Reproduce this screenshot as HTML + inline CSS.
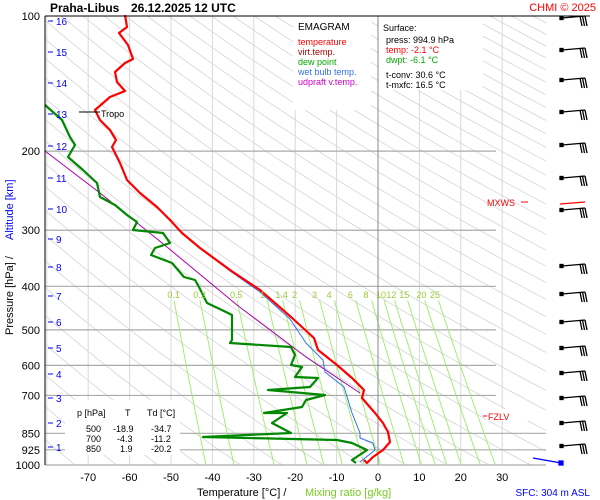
<!DOCTYPE html>
<html><head><meta charset="utf-8"><style>
html,body{margin:0;padding:0;background:#fff;}
svg{display:block;font-family:"Liberation Sans",sans-serif;}
</style></head><body>
<svg id="s" width="600" height="500" viewBox="0 0 600 500" xmlns="http://www.w3.org/2000/svg">
<rect width="600" height="500" fill="#fff"/>
<defs><clipPath id="c"><rect x="45" y="16" width="501" height="449"/></clipPath>
<clipPath id="c2"><rect x="45" y="16" width="460" height="449"/></clipPath></defs>
<g id="bg" clip-path="url(#c)"></g>
<g id="grid"></g>
<g id="mix" clip-path="url(#c2)"></g>
<!-- boxes -->
<rect x="293" y="16" width="78" height="94" fill="#fff"/>
<rect x="379" y="16" width="104" height="74" fill="#fff"/>
<rect x="65" y="400" width="115" height="55" fill="#fff"/>
<line x1="378" y1="16" x2="378" y2="465" stroke="#888" stroke-width="1"/>
<g id="data" fill="none" stroke-linejoin="round"></g>
<g id="bar" stroke="#000" stroke-width="1.3" fill="none"></g>
<!-- frame -->
<line x1="45" y1="16" x2="590" y2="16" stroke="#000"/>
<line x1="45" y1="16" x2="45" y2="465" stroke="#000"/>
<!-- title -->
<text x="50" y="12" font-size="12" font-weight="bold">Praha-Libus</text>
<text x="131" y="12" font-size="12" font-weight="bold">26.12.2025 12 UTC</text>
<text x="596" y="11" font-size="11" fill="#f00" text-anchor="end">CHMI © 2025</text>
<!-- legend -->
<text x="298" y="30" font-size="10">EMAGRAM</text>
<text x="298" y="45" font-size="9" fill="#f00">temperature</text>
<text x="298" y="55" font-size="9" fill="#a00">virt.temp.</text>
<text x="298" y="65" font-size="9" fill="#0a0">dew point</text>
<text x="298" y="75" font-size="9" fill="#3370f0">wet bulb temp.</text>
<text x="298" y="85" font-size="9" fill="#c0c">udpraft v.temp.</text>
<text x="383" y="31" font-size="9">Surface:</text>
<text x="386" y="43" font-size="9">press: 994.9 hPa</text>
<text x="386" y="53" font-size="9" fill="#f00">temp: -2.1 °C</text>
<text x="386" y="63" font-size="9" fill="#0a0">dwpt: -6.1 °C</text>
<text x="386" y="78" font-size="9">t-conv: 30.6 °C</text>
<text x="386" y="88" font-size="9">t-mxfc: 16.5 °C</text>
<!-- table -->
<g font-size="9">
<text x="77" y="416">p [hPa]</text><text x="125" y="416">T</text><text x="147" y="416">Td [°C]</text>
<text x="86" y="432">500</text><text x="113" y="432">-18.9</text><text x="151" y="432">-34.7</text>
<text x="86" y="442">700</text><text x="117" y="442">-4.3</text><text x="151" y="442">-11.2</text>
<text x="86" y="452">850</text><text x="120" y="452">1.9</text><text x="151" y="452">-20.2</text>
</g>
<!-- markers -->
<line x1="79" y1="112" x2="100" y2="112" stroke="#000"/>
<text x="101" y="117" font-size="9">Tropo</text>
<text x="487" y="206" font-size="9" fill="#f00">MXWS</text>
<line x1="521" y1="202" x2="528" y2="202" stroke="#f00"/>
<rect x="486" y="409" width="42" height="12" fill="#fff"/>
<line x1="483" y1="416" x2="487" y2="416" stroke="#f00"/>
<text x="488" y="420" font-size="9" fill="#f00">FZLV</text>
<!-- axis labels -->
<g font-size="11" text-anchor="end" id="plab"></g>
<g font-size="10" fill="#00f" id="alab"></g>
<g font-size="11" text-anchor="middle" id="tlab"></g>
<text x="197" y="496" font-size="11">Temperature [°C]  /</text>
<text x="305" y="496" font-size="11" fill="#7c2">Mixing ratio [g/kg]</text>
<text x="590" y="496" font-size="10" fill="#00f" text-anchor="end">SFC: 304 m ASL</text>
<text transform="translate(13,335) rotate(-90)" font-size="11">Pressure [hPa]  /</text>
<text transform="translate(13,240) rotate(-90)" font-size="11" fill="#00f">Altitude [km]</text>
<g font-size="9" fill="#9c3" id="mlab"></g>
</svg>
<script>
var NS="http://www.w3.org/2000/svg";
function el(p,t,a,txt){var e=document.createElementNS(NS,t);for(var k in a)e.setAttribute(k,a[k]);if(txt!=null)e.textContent=txt;document.getElementById(p).appendChild(e);return e;}
function Y(p){return 16+449*Math.log(p/100)/Math.LN10;}
function X(t){return 378+4.14*t;}
for(var th=180;th<=700;th+=10){var d="";for(var p=100;p<=1000;p+=10){var t=th*Math.pow(p/1000,0.286)-273.15;d+=(p==100?"M":"L")+X(t).toFixed(1)+","+Y(p).toFixed(1);}
el("bg","path",{d:d,stroke:"#d4d4d4","stroke-width":"0.8",fill:"none"});}
for(var t=-80;t<=30;t+=10){if(X(t)<46)continue;el("grid","line",{x1:X(t),y1:16,x2:X(t),y2:465,stroke:"#d8d8d8"});}
[100,200,300,400,500,600,700,850,925,1000].forEach(function(p){var x2=p>=850?546:496;
el("plab","text",{x:40,y:Y(p)+4},String(p));
if(p==100)return;
el("grid","line",{x1:45,y1:Y(p),x2:x2,y2:Y(p),stroke:"#aaa","stroke-width":"1.2"});});
[[0.1,"0.1"],[0.2,"0.2"],[0.5,"0.5"],[1,"1"],[1.4,"1.4"],[2,"2"],[3,"3"],[4,"4"],[6,"6"],[8,"8"],[10,"10"],[12,"12"],[15,"15"],[20,"20"],[25,"25"]].forEach(function(w){
var d="";for(var p=430;p<=1000;p+=10){var es=w[0]*p/(622+w[0]);var l=Math.log(es/6.112);var t=243.5*l/(17.67-l);d+=(p==430?"M":"L")+X(t).toFixed(1)+","+Y(p).toFixed(1);}
el("mix","path",{d:d,stroke:"#9e6","stroke-width":"0.9",fill:"none"});
var es=w[0]*400/(622+w[0]);var l=Math.log(es/6.112);var t=243.5*l/(17.67-l);
el("mlab","text",{x:X(t)-4,y:298},w[1]);});
for(var t=-70;t<=30;t+=10)el("tlab","text",{x:X(t),y:481},String(t));
[[16,21],[15,52],[14,83],[13,114],[12,146],[11,178],[10,209],[9,239],[8,267],[7,296],[6,322],[5,348],[4,374],[3,398],[2,423],[1,447]].forEach(function(a){
el("alab","line",{x1:48,y1:a[1],x2:53,y2:a[1],stroke:"#00f"});el("alab","text",{x:56,y:a[1]+4},String(a[0]));});
function pl(pts,c,w){el("data","polyline",{points:pts,stroke:c,"stroke-width":w});}
pl("45,151 100,193 167,247 237,305 306,357 360,393","#a0a",1);
pl("200,248 230,271 260,292 290,319 306,343 323,360 325,372 344,387 348,400 352,413 360,433 360,438 373,443 375,450 360,462","#3370f0",1);
pl("125,15 127,27 119,33 128,45 133,59 125,63 115,72 117,82 125,91 110,97 95,110 100,120 110,130 116,140 112,147 115,153 120,163 127,180 140,193 157,207 170,220 182,233 200,248 230,270 260,290 291,317 314,338 318,350 337,365 352,378 364,390 362,398 375,413 383,423 388,432 390,442 383,450 373,457 367,463 364,460","#f00",2.2);
pl("45,105 62,120 70,137 75,145 68,157 83,170 97,183 100,197 115,205 127,215 137,222 133,230 163,233 170,243 155,248 151,255 172,263 184,277 195,280 199,287 207,303 226,312 232,315 232,340 230,343 291,347 295,355 291,365 302,367 295,377 318,378 310,387 268,390 325,395 306,400 302,407 264,413 287,413 272,423 291,433 203,437 337,440 352,443 367,450 352,460 356,463","#080",2.2);
[18,50,80,112,145,178,210,266,294,322,348,373,398,423,446].forEach(function(y,i){
el("bar","line",{x1:562,y1:y,x2:585,y2:y-2});
el("bar","rect",{x:560,y:y-1.5,width:3,height:3,fill:"#000"});
for(var k=0;k<3;k++)el("bar","line",{x1:580+k*2.5,y1:y-2,x2:582+k*2.5,y2:y+8});
});
el("bar","line",{x1:560,y1:204,x2:585,y2:202,stroke:"#f00"});
el("bar","line",{x1:533,y1:458,x2:561,y2:463,stroke:"#00f"});
el("bar","rect",{x:559,y:461,width:4,height:4,fill:"#00f",stroke:"#00f"});
</script>
</body></html>
